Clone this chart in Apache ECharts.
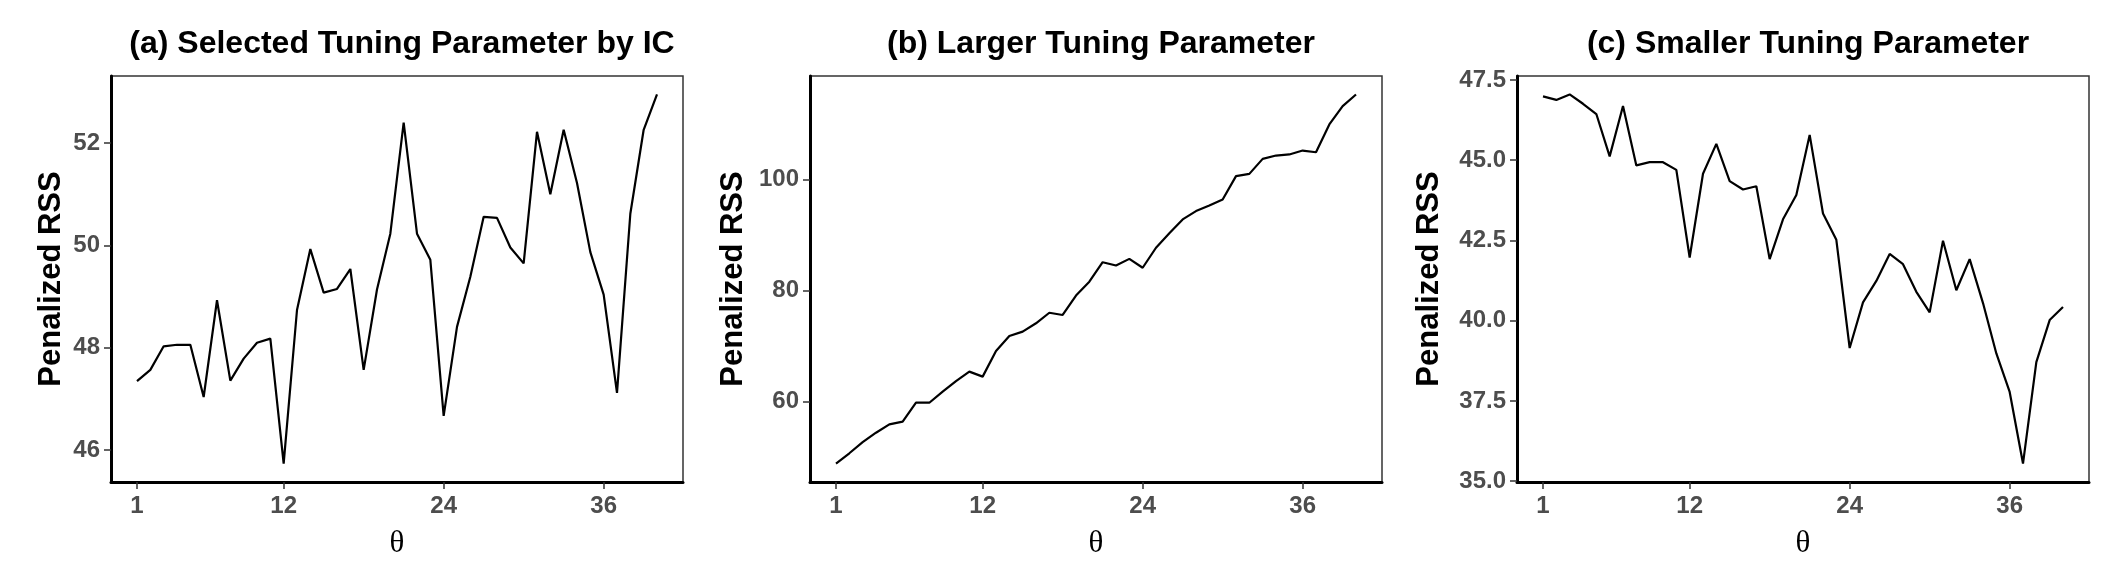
<!DOCTYPE html>
<html>
<head>
<meta charset="utf-8">
<script src="https://cdn.jsdelivr.net/npm/echarts@6/dist/echarts.min.js"></script>
<style>
html,body{margin:0;padding:0;background:#fff;}
#chart{width:2120px;height:588px;}
</style>
</head>
<body>
<div id="chart"></div>
<script>
// ---- data ----
const theta = [1,2,3,4,5,6,7,8,9,10,11,12,13,14,15,16,17,18,19,20,21,22,23,24,25,26,27,28,29,30,31,32,33,34,35,36,37,38,39,40];
const rssIC = [47.35,47.57,48.03,48.06,48.06,47.04,48.93,47.36,47.79,48.10,48.18,45.74,48.74,49.93,49.08,49.15,49.54,47.57,49.14,50.23,52.40,50.23,49.72,46.67,48.41,49.39,50.56,50.54,49.96,49.65,52.22,51.00,52.26,51.22,49.87,49.04,47.12,50.62,52.26,52.95];
const rssLarger = [48.85,50.7,52.7,54.4,55.9,56.4,59.8,59.8,61.8,63.7,65.4,64.5,69.1,71.8,72.6,74.1,76.0,75.6,79.1,81.6,85.1,84.5,85.7,84.1,87.7,90.3,92.8,94.3,95.3,96.4,100.6,101.0,103.7,104.3,104.5,105.2,104.9,109.9,113.2,115.3];
const rssSmaller = [46.99,46.88,47.05,46.76,46.44,45.12,46.69,44.84,44.94,44.94,44.70,41.97,44.58,45.51,44.35,44.09,44.19,41.92,43.16,43.92,45.79,43.34,42.52,39.15,40.57,41.24,42.08,41.76,40.90,40.26,42.49,40.95,41.92,40.55,38.98,37.78,35.55,38.71,40.02,40.43];
const xTicks = [1,12,24,36];
const yTicksA = [46,48,50,52];
const yTicksB = [60,80,100];
const yTicksC = [35,37.5,40,42.5,45,47.5];
const titles = ['(a) Selected Tuning Parameter by IC','(b) Larger Tuning Parameter','(c) Smaller Tuning Parameter'];
const yName = 'Penalized RSS';
const xName = 'θ';

// ---- layout ----
const panels = [
  {left:111, series:rssIC, ticks:yTicksA, digits:0, nameGap:44},
  {left:810, series:rssLarger, ticks:yTicksB, digits:0, nameGap:61},
  {left:1517, series:rssSmaller, ticks:yTicksC, digits:1, nameGap:72}
];
const PW = 572, PH = 406, PT = 76;
const sans = '"Liberation Sans", Arial, sans-serif';

function lims(arr){
  const mn = Math.min(...arr), mx = Math.max(...arr), r = mx - mn;
  return [mn - 0.05*r, mx + 0.05*r];
}

const grid = [], xAxis = [], yAxis = [], series = [], title = [];
panels.forEach((p,i)=>{
  grid.push({left:p.left, top:PT, width:PW, height:PH, show:true, borderColor:'#333', borderWidth:1.5, backgroundColor:'#fff'});
  const xl = lims(theta), yl = lims(p.series);
  xAxis.push({
    type:'value', gridIndex:i, min:xl[0], max:xl[1],
    axisLine:{show:true, onZero:false, lineStyle:{color:'#000', width:3}},
    axisTick:{show:true, customValues:xTicks, length:7, lineStyle:{color:'#333', width:1.5}},
    axisLabel:{customValues:xTicks, color:'#4D4D4D', fontFamily:sans, fontWeight:'bold', fontSize:24, margin:12},
    splitLine:{show:false},
    name:xName, nameLocation:'middle', nameGap:46,
    nameTextStyle:{fontFamily:'"Liberation Serif", "DejaVu Serif", serif', fontSize:31, color:'#000'}
  });
  yAxis.push({
    type:'value', gridIndex:i, min:yl[0], max:yl[1],
    axisLine:{show:true, onZero:false, lineStyle:{color:'#000', width:3}},
    axisTick:{show:true, customValues:p.ticks, length:7, lineStyle:{color:'#333', width:1.5}},
    axisLabel:{customValues:p.ticks, color:'#4D4D4D', fontFamily:sans, fontWeight:'bold', fontSize:24, margin:11,
      formatter:(v)=>Number(v).toFixed(p.digits)},
    splitLine:{show:false},
    name:yName, nameLocation:'middle', nameRotate:90, nameGap:p.nameGap,
    nameTextStyle:{fontFamily:sans, fontWeight:'bold', fontSize:31, color:'#000'}
  });
  series.push({
    type:'line', xAxisIndex:i, yAxisIndex:i, showSymbol:false, symbol:'none',
    lineStyle:{color:'#000', width:2.2}, animation:false,
    data: theta.map((t,k)=>[t, p.series[k]])
  });
  title.push({
    text:titles[i], left:p.left + PW/2, top:23, textAlign:'center',
    textStyle:{fontFamily:sans, fontWeight:'bold', fontSize:32, color:'#000'}
  });
});

const chart = echarts.init(document.getElementById('chart'), null, {renderer:'canvas'});
chart.setOption({animation:false, backgroundColor:'#fff', title, grid, xAxis, yAxis, series});
</script>
</body>
</html>
